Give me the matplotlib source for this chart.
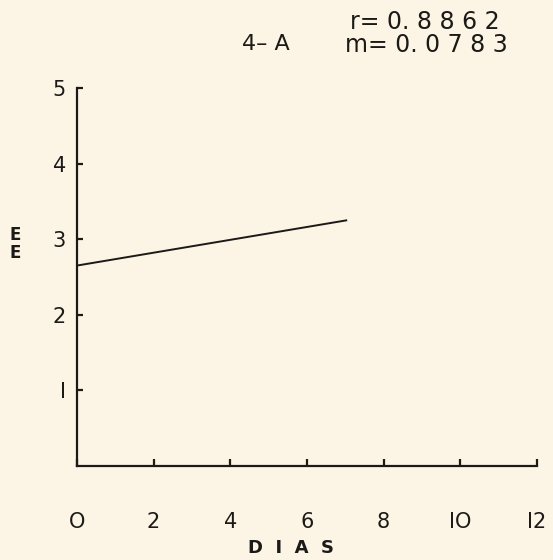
import numpy as np
import matplotlib.pyplot as plt

# fitted line (start/end of the drawn segment)
dias = [0, 7.05]
valores = [2.65, 3.25]

xticks = [0, 2, 4, 6, 8, 10, 12]
yticks = [1, 2, 3, 4, 5]
xlabels = ['O', '2', '4', '6', '8', 'IO', 'I2']
ylabels = ['I', '2', '3', '4', '5']

paper = '#fcf5e6'
ink = '#1c1a17'

plt.rcParams['font.family'] = ['DejaVu Sans']

fig = plt.figure(figsize=(5.53, 5.6), dpi=100, facecolor=paper)
ax = fig.add_axes([0.139, 0.168, 0.832, 0.675], facecolor=paper)

ax.plot(dias, valores, color=ink, lw=1.4, solid_capstyle='butt')

ax.set_xlim(0, 12)
ax.set_ylim(0, 5)
for s in ['top', 'right']:
    ax.spines[s].set_visible(False)
for s in ['left', 'bottom']:
    ax.spines[s].set_color(ink)
    ax.spines[s].set_linewidth(1.6)

ax.set_xticks(xticks)
ax.set_xticklabels(xlabels)
ax.set_yticks(yticks)
ax.set_yticklabels(ylabels)
ax.tick_params(axis='x', direction='in', length=5, width=1.6, color=ink,
               pad=33, labelsize=15, labelcolor=ink)
ax.tick_params(axis='y', direction='in', length=4, width=1.6, color=ink,
               pad=8, labelsize=15, labelcolor=ink)

fig.text(0.527, 0.021, 'D  I  A  S', fontsize=13, fontweight='bold', color=ink,
         ha='center', va='center')
fig.text(0.028, 0.565, 'E\nE', fontsize=12, fontweight='bold', color=ink,
         ha='center', va='center', linespacing=1.0)

fig.text(0.633, 0.961, 'r= 0. 8 8 6 2', fontsize=17, color=ink, ha='left', va='center')
fig.text(0.624, 0.920, 'm= 0. 0 7 8 3', fontsize=17, color=ink, ha='left', va='center')
fig.text(0.438, 0.922, '4– A', fontsize=16, color=ink, ha='left', va='center')

fig.savefig('out.png', dpi=100, facecolor=paper)
